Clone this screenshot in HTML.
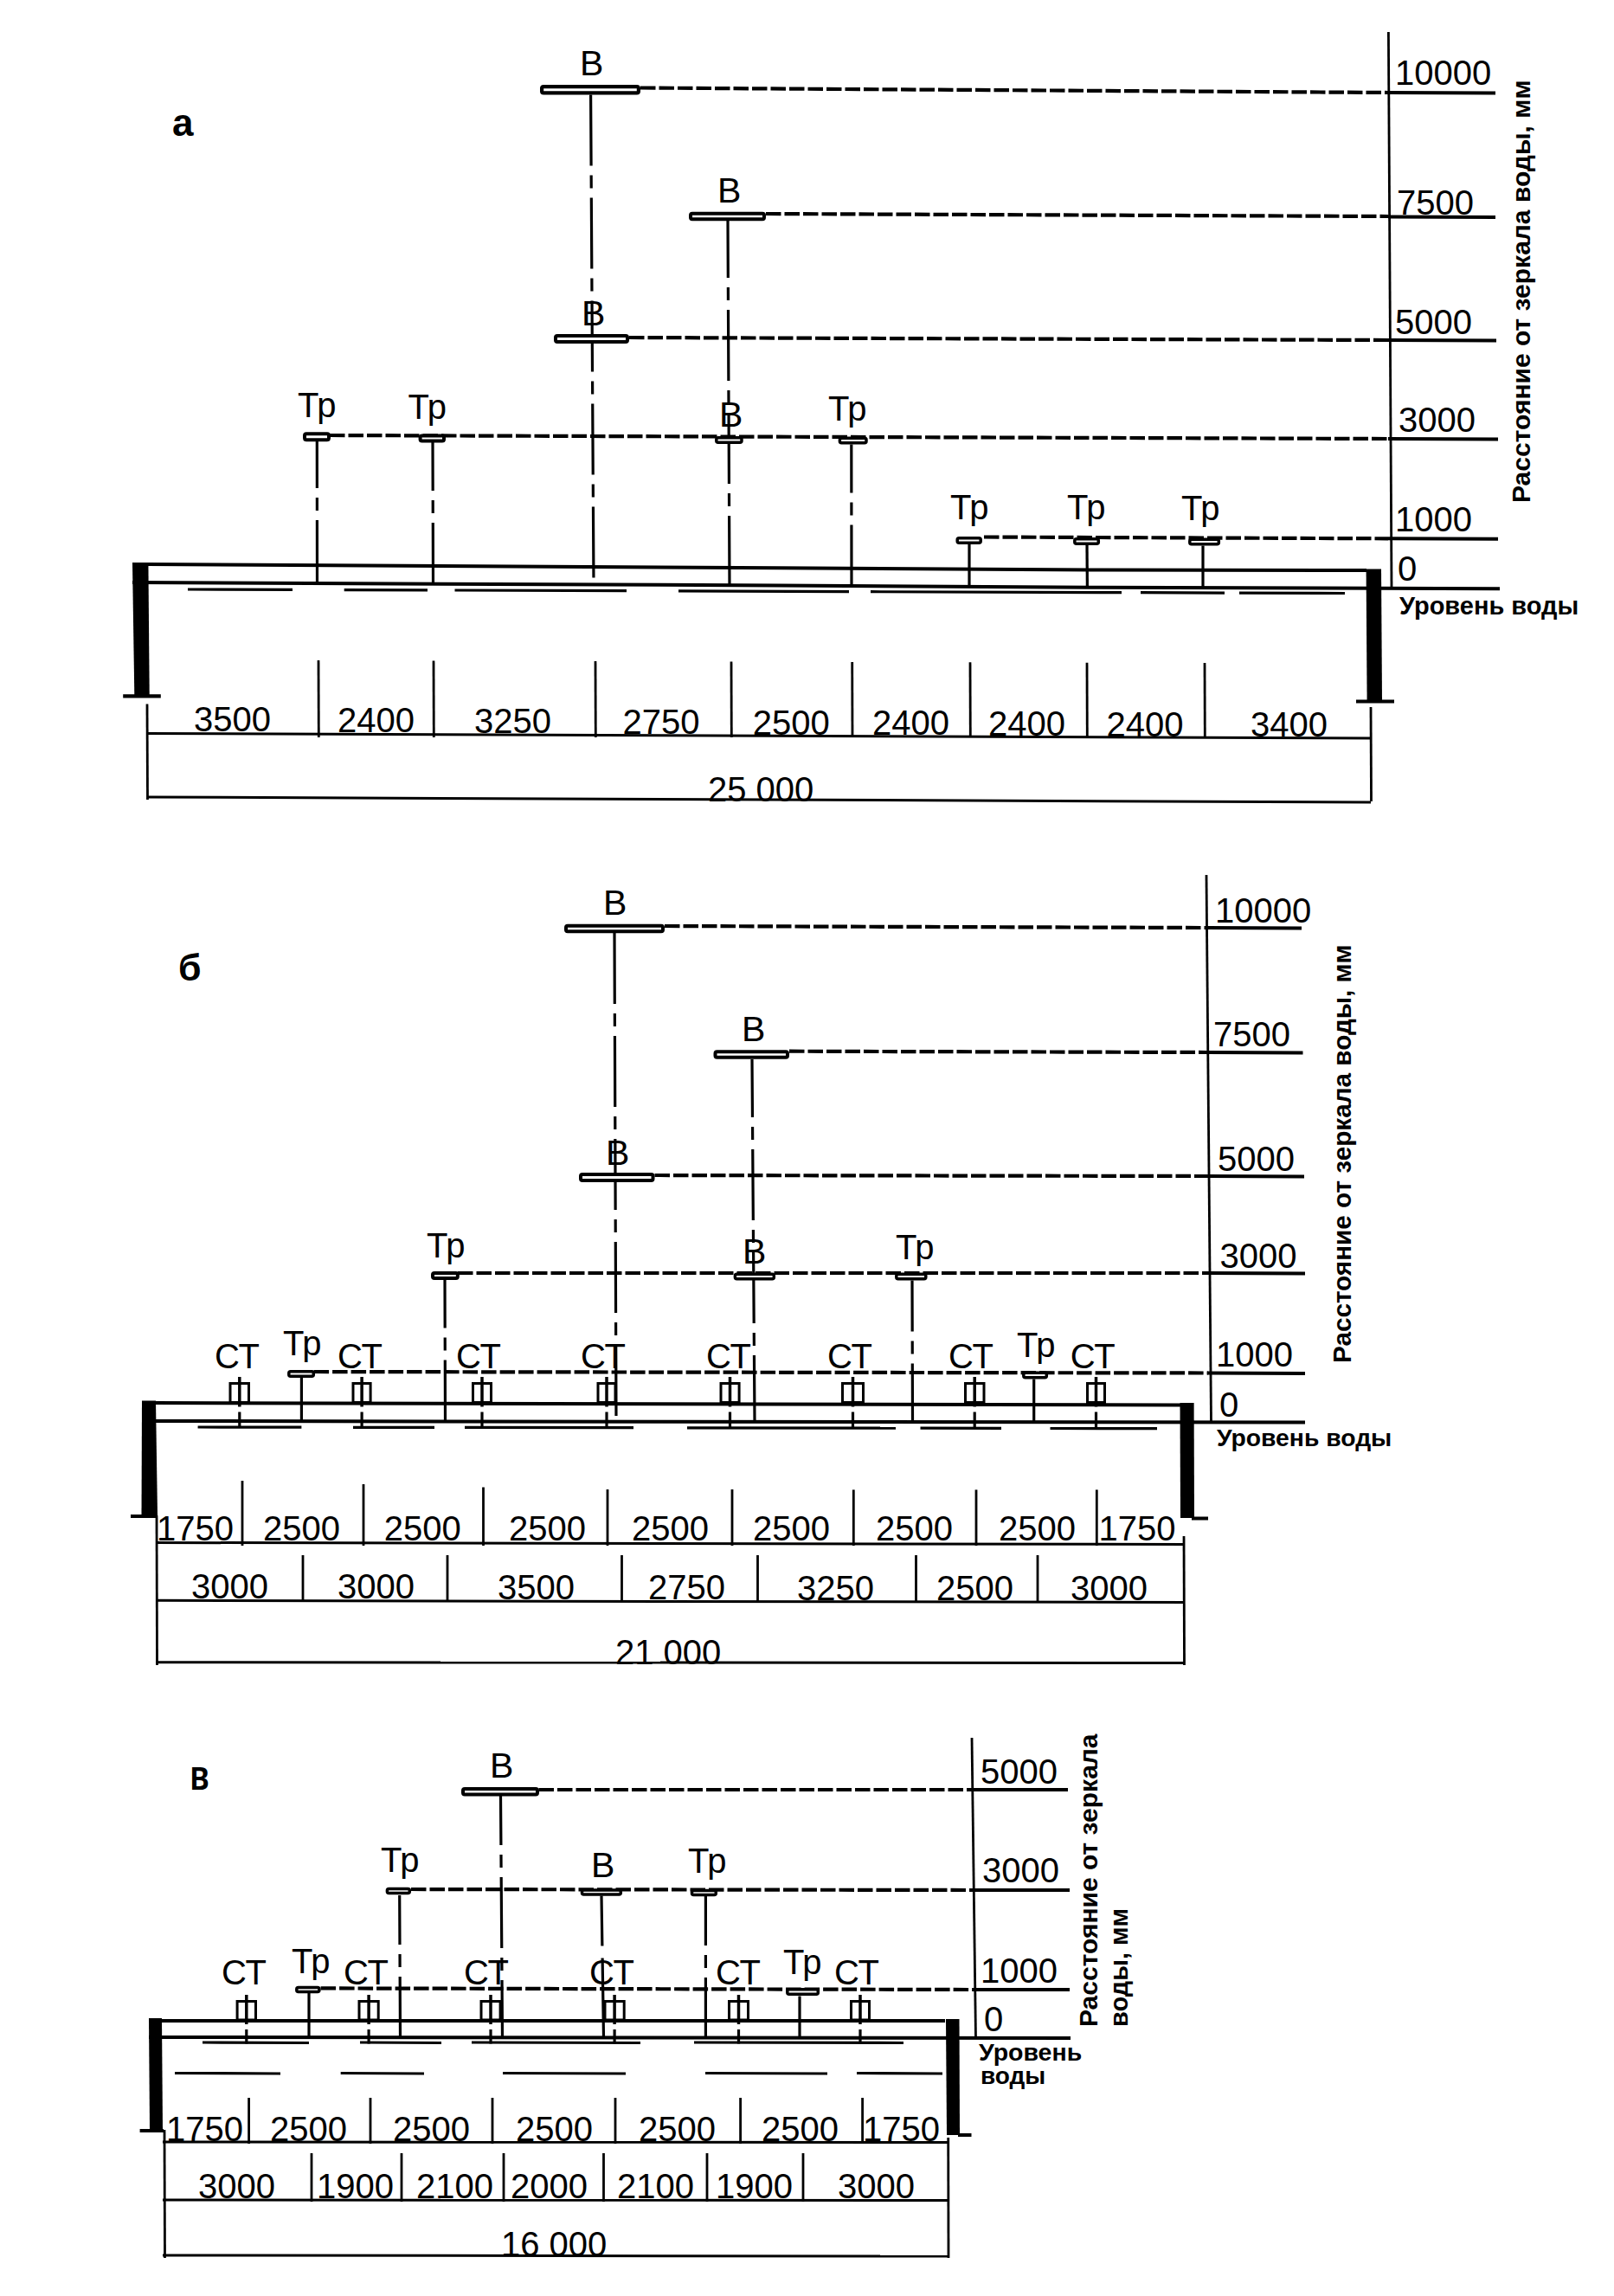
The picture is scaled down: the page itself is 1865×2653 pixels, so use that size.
<!DOCTYPE html>
<html><head><meta charset="utf-8"><style>
html,body{margin:0;padding:0;background:#fff;}
svg{display:block;}
</style></head><body>
<svg width="1865" height="2653" viewBox="0 0 1865 2653">
<rect width="1865" height="2653" fill="#fff"/>
<g stroke="#000" fill="#000" font-family="Liberation Sans, sans-serif">
<g class="t" stroke="none">
</g>
<text stroke="none" x="199.0" y="156.8" font-size="44" font-weight="bold">а</text>
<line x1="1604.4" y1="37.0" x2="1608.0" y2="681.0" stroke-width="2.8" stroke-linecap="butt"/>
<line x1="1604.0" y1="107.0" x2="1728.0" y2="107.5" stroke-width="4" stroke-linecap="butt"/>
<line x1="1604.0" y1="250.5" x2="1728.0" y2="251.0" stroke-width="4" stroke-linecap="butt"/>
<line x1="1604.0" y1="393.0" x2="1729.0" y2="393.5" stroke-width="4" stroke-linecap="butt"/>
<line x1="1604.0" y1="507.0" x2="1731.0" y2="507.5" stroke-width="4" stroke-linecap="butt"/>
<line x1="1604.0" y1="622.3" x2="1731.0" y2="622.8" stroke-width="4" stroke-linecap="butt"/>
<text stroke="none" x="1612.0" y="97.5" font-size="40">10000</text>
<text stroke="none" x="1614.0" y="247.5" font-size="40">7500</text>
<text stroke="none" x="1612.0" y="386.0" font-size="40">5000</text>
<text stroke="none" x="1616.0" y="499.0" font-size="40">3000</text>
<text stroke="none" x="1612.0" y="613.5" font-size="40">1000</text>
<text stroke="none" x="1615.0" y="671.0" font-size="40">0</text>
<text stroke="none" transform="translate(1767.5,581.0) rotate(-90)" font-size="30" font-weight="bold">Расстояние от зеркала воды, мм</text>
<text stroke="none" x="1617.0" y="710.0" font-size="29" font-weight="bold">Уровень воды</text>
<line x1="740.0" y1="101.5" x2="1604.0" y2="107.0" stroke-width="4.2" stroke-dasharray="17.5 4" stroke-linecap="butt"/>
<line x1="885.0" y1="247.0" x2="1604.0" y2="250.0" stroke-width="4.2" stroke-dasharray="17.5 4" stroke-linecap="butt"/>
<line x1="727.0" y1="390.0" x2="1604.0" y2="393.0" stroke-width="4.2" stroke-dasharray="17.5 4" stroke-linecap="butt"/>
<line x1="381.0" y1="503.0" x2="1604.0" y2="507.0" stroke-width="4.2" stroke-dasharray="17.5 4" stroke-linecap="butt"/>
<line x1="1137.0" y1="620.5" x2="1604.0" y2="622.3" stroke-width="4.2" stroke-dasharray="17.5 4" stroke-linecap="butt"/>
<polyline points="171.0,652.0 900.0,656.3 1260.0,658.6 1579.0,659.0" fill="none" stroke-width="4"/>
<polyline points="153.0,673.0 900.0,676.5 1260.0,678.7 1733.0,680.3" fill="none" stroke-width="4"/>
<line x1="217.0" y1="681.0" x2="338.0" y2="681.4" stroke-width="3.2" stroke-linecap="butt"/>
<line x1="397.7" y1="681.6" x2="494.0" y2="681.9" stroke-width="3.2" stroke-linecap="butt"/>
<line x1="525.5" y1="682.0" x2="724.0" y2="682.7" stroke-width="3.2" stroke-linecap="butt"/>
<line x1="784.0" y1="682.9" x2="981.0" y2="683.6" stroke-width="3.2" stroke-linecap="butt"/>
<line x1="1006.0" y1="683.7" x2="1296.0" y2="684.7" stroke-width="3.2" stroke-linecap="butt"/>
<line x1="1318.0" y1="684.7" x2="1415.0" y2="685.1" stroke-width="3.2" stroke-linecap="butt"/>
<line x1="1432.0" y1="685.1" x2="1554.0" y2="685.5" stroke-width="3.2" stroke-linecap="butt"/>
<polygon points="153.0,650.0 171.4,650.0 172.7,803.0 155.3,803.0" fill="#000" stroke="none"/>
<line x1="142.2" y1="804.3" x2="185.8" y2="804.3" stroke-width="4.2" stroke-linecap="butt"/>
<polygon points="1578.6,657.5 1596.0,657.5 1597.0,810.0 1579.6,810.0" fill="#000" stroke="none"/>
<line x1="1567.0" y1="810.5" x2="1611.0" y2="810.5" stroke-width="4.2" stroke-linecap="butt"/>
<rect x="626.1" y="100.1" width="111.8" height="7.3" rx="2" fill="#fff" stroke-width="4.2"/>
<line x1="682.6" y1="109.5" x2="686.0" y2="676.0" stroke-width="3.2" stroke-dasharray="82 11 15 11" stroke-linecap="butt"/>
<text stroke="none" x="670.0" y="87.4" font-size="41">В</text>
<rect x="798.0" y="246.8" width="85.0" height="6.5" rx="2" fill="#fff" stroke-width="4"/>
<line x1="841.0" y1="255.0" x2="843.0" y2="677.0" stroke-width="3.2" stroke-dasharray="82 11 15 11" stroke-dashoffset="16" stroke-linecap="butt"/>
<text stroke="none" x="829.0" y="233.5" font-size="41">В</text>
<rect x="642.0" y="388.0" width="83.0" height="7.0" rx="2" fill="#fff" stroke-width="4"/>
<text stroke="none" x="672.0" y="376.0" font-size="41">В</text>
<rect x="827.8" y="505.8" width="29.2" height="5.5" rx="2" fill="#fff" stroke-width="3.5"/>
<text stroke="none" x="831.0" y="493.0" font-size="41">В</text>
<rect x="352.0" y="501.2" width="28.0" height="7.0" rx="2" fill="#fff" stroke-width="4"/>
<line x1="366.3" y1="510.0" x2="366.5" y2="674.0" stroke-width="3.2" stroke-dasharray="82 11 15 11" stroke-dashoffset="28" stroke-linecap="butt"/>
<text stroke="none" x="344.0" y="482.0" font-size="40">Тр</text>
<rect x="485.6" y="503.5" width="27.4" height="6.0" rx="2" fill="#fff" stroke-width="4"/>
<line x1="500.0" y1="511.0" x2="500.5" y2="675.0" stroke-width="3.2" stroke-dasharray="82 11 15 11" stroke-dashoffset="26" stroke-linecap="butt"/>
<text stroke="none" x="471.5" y="484.0" font-size="40">Тр</text>
<rect x="970.4" y="506.2" width="30.6" height="5.5" rx="2" fill="#fff" stroke-width="3.5"/>
<line x1="983.8" y1="513.5" x2="984.0" y2="677.0" stroke-width="3.2" stroke-dasharray="82 11 15 11" stroke-dashoffset="26" stroke-linecap="butt"/>
<text stroke="none" x="957.0" y="485.5" font-size="40">Тр</text>
<rect x="1106.2" y="621.8" width="27.0" height="5.5" rx="2" fill="#fff" stroke-width="3.5"/>
<line x1="1120.0" y1="629.0" x2="1120.0" y2="679.0" stroke-width="3.2" stroke-linecap="butt"/>
<text stroke="none" x="1098.0" y="600.0" font-size="40">Тр</text>
<rect x="1241.8" y="622.8" width="27.5" height="5.5" rx="2" fill="#fff" stroke-width="3.5"/>
<line x1="1256.0" y1="630.0" x2="1256.4" y2="679.0" stroke-width="3.2" stroke-linecap="butt"/>
<text stroke="none" x="1233.0" y="600.0" font-size="40">Тр</text>
<rect x="1374.8" y="623.2" width="33.5" height="5.5" rx="2" fill="#fff" stroke-width="3.5"/>
<line x1="1390.0" y1="630.5" x2="1390.0" y2="679.0" stroke-width="3.2" stroke-linecap="butt"/>
<text stroke="none" x="1365.0" y="601.0" font-size="40">Тр</text>
<line x1="170.0" y1="813.4" x2="170.5" y2="924.0" stroke-width="2.8" stroke-linecap="butt"/>
<line x1="1584.0" y1="817.0" x2="1584.5" y2="926.0" stroke-width="2.8" stroke-linecap="butt"/>
<line x1="368.0" y1="763.0" x2="368.3" y2="852.0" stroke-width="2.8" stroke-linecap="butt"/>
<line x1="501.0" y1="763.4" x2="501.3" y2="852.0" stroke-width="2.8" stroke-linecap="butt"/>
<line x1="688.0" y1="764.0" x2="688.3" y2="852.0" stroke-width="2.8" stroke-linecap="butt"/>
<line x1="845.0" y1="764.4" x2="845.3" y2="852.0" stroke-width="2.8" stroke-linecap="butt"/>
<line x1="984.7" y1="764.9" x2="985.0" y2="852.0" stroke-width="2.8" stroke-linecap="butt"/>
<line x1="1121.0" y1="765.3" x2="1121.3" y2="852.0" stroke-width="2.8" stroke-linecap="butt"/>
<line x1="1256.0" y1="765.7" x2="1256.3" y2="852.0" stroke-width="2.8" stroke-linecap="butt"/>
<line x1="1392.0" y1="766.1" x2="1392.3" y2="852.0" stroke-width="2.8" stroke-linecap="butt"/>
<line x1="170.0" y1="847.5" x2="1584.0" y2="853.0" stroke-width="3" stroke-linecap="butt"/>
<line x1="170.0" y1="921.0" x2="1584.0" y2="927.0" stroke-width="3" stroke-linecap="butt"/>
<text stroke="none" x="224.0" y="845.3" font-size="40">3500</text>
<text stroke="none" x="390.0" y="846.1" font-size="40">2400</text>
<text stroke="none" x="548.0" y="846.9" font-size="40">3250</text>
<text stroke="none" x="719.6" y="847.8" font-size="40">2750</text>
<text stroke="none" x="869.7" y="848.5" font-size="40">2500</text>
<text stroke="none" x="1008.0" y="849.2" font-size="40">2400</text>
<text stroke="none" x="1142.0" y="849.9" font-size="40">2400</text>
<text stroke="none" x="1278.5" y="850.6" font-size="40">2400</text>
<text stroke="none" x="1445.0" y="851.4" font-size="40">3400</text>
<text stroke="none" x="818.0" y="925.5" font-size="40">25 000</text>
<text stroke="none" x="206.0" y="1132.5" font-size="43" font-weight="bold">б</text>
<line x1="1394.0" y1="1011.0" x2="1399.5" y2="1644.0" stroke-width="2.8" stroke-linecap="butt"/>
<line x1="1395.0" y1="1072.0" x2="1504.0" y2="1072.5" stroke-width="4" stroke-linecap="butt"/>
<line x1="1395.0" y1="1216.0" x2="1505.5" y2="1216.5" stroke-width="4" stroke-linecap="butt"/>
<line x1="1395.0" y1="1359.0" x2="1507.0" y2="1359.5" stroke-width="4" stroke-linecap="butt"/>
<line x1="1395.0" y1="1471.0" x2="1508.0" y2="1471.5" stroke-width="4" stroke-linecap="butt"/>
<line x1="1395.0" y1="1586.5" x2="1508.0" y2="1587.0" stroke-width="4" stroke-linecap="butt"/>
<text stroke="none" x="1404.0" y="1065.5" font-size="40">10000</text>
<text stroke="none" x="1402.0" y="1209.0" font-size="40">7500</text>
<text stroke="none" x="1407.0" y="1352.6" font-size="40">5000</text>
<text stroke="none" x="1409.5" y="1465.0" font-size="40">3000</text>
<text stroke="none" x="1405.0" y="1578.8" font-size="40">1000</text>
<text stroke="none" x="1409.0" y="1636.5" font-size="40">0</text>
<text stroke="none" x="1406.0" y="1671.0" font-size="28.3" font-weight="bold">Уровень воды</text>
<text stroke="none" transform="translate(1561.0,1575.0) rotate(-90)" font-size="29.7" font-weight="bold">Расстояние от зеркала воды, мм</text>
<line x1="768.0" y1="1070.0" x2="1395.0" y2="1072.0" stroke-width="4.2" stroke-dasharray="17.5 4" stroke-linecap="butt"/>
<line x1="912.0" y1="1214.7" x2="1395.0" y2="1216.0" stroke-width="4.2" stroke-dasharray="17.5 4" stroke-linecap="butt"/>
<line x1="756.5" y1="1358.0" x2="1395.0" y2="1359.0" stroke-width="4.2" stroke-dasharray="17.5 4" stroke-linecap="butt"/>
<line x1="529.0" y1="1471.0" x2="1396.0" y2="1471.0" stroke-width="4.2" stroke-dasharray="17.5 4" stroke-linecap="butt"/>
<line x1="362.6" y1="1585.0" x2="1396.0" y2="1586.5" stroke-width="4.2" stroke-dasharray="17.5 4" stroke-linecap="butt"/>
<line x1="180.0" y1="1621.0" x2="1364.0" y2="1623.5" stroke-width="4" stroke-linecap="butt"/>
<line x1="164.0" y1="1642.0" x2="1508.0" y2="1643.5" stroke-width="4" stroke-linecap="butt"/>
<line x1="228.6" y1="1649.0" x2="348.4" y2="1649.2" stroke-width="3.2" stroke-linecap="butt"/>
<line x1="408.0" y1="1649.3" x2="502.0" y2="1649.4" stroke-width="3.2" stroke-linecap="butt"/>
<line x1="537.0" y1="1649.4" x2="732.0" y2="1649.7" stroke-width="3.2" stroke-linecap="butt"/>
<line x1="794.0" y1="1649.8" x2="1035.0" y2="1650.2" stroke-width="3.2" stroke-linecap="butt"/>
<line x1="1063.5" y1="1650.2" x2="1157.0" y2="1650.4" stroke-width="3.2" stroke-linecap="butt"/>
<line x1="1213.5" y1="1650.5" x2="1337.0" y2="1650.6" stroke-width="3.2" stroke-linecap="butt"/>
<polygon points="164.0,1618.6 180.0,1618.6 182.0,1751.0 163.5,1751.0" fill="#000" stroke="none"/>
<line x1="151.0" y1="1752.0" x2="182.0" y2="1752.0" stroke-width="4" stroke-linecap="butt"/>
<polygon points="1363.5,1621.0 1379.6,1621.0 1380.0,1754.0 1364.0,1754.0" fill="#000" stroke="none"/>
<line x1="1377.0" y1="1754.5" x2="1396.0" y2="1754.5" stroke-width="4" stroke-linecap="butt"/>
<rect x="654.0" y="1069.8" width="112.0" height="6.5" rx="2" fill="#fff" stroke-width="4"/>
<line x1="710.0" y1="1078.0" x2="712.0" y2="1641.0" stroke-width="3.2" stroke-dasharray="82 11 15 11" stroke-linecap="butt"/>
<text stroke="none" x="697.0" y="1057.0" font-size="41">В</text>
<rect x="826.5" y="1215.2" width="83.5" height="6.5" rx="2" fill="#fff" stroke-width="4"/>
<line x1="869.0" y1="1224.0" x2="872.0" y2="1642.0" stroke-width="3.2" stroke-dasharray="82 11 15 11" stroke-dashoffset="15" stroke-linecap="butt"/>
<text stroke="none" x="857.0" y="1202.5" font-size="41">В</text>
<rect x="671.0" y="1357.0" width="83.5" height="7.0" rx="2" fill="#fff" stroke-width="4"/>
<text stroke="none" x="700.0" y="1346.0" font-size="41">В</text>
<rect x="849.4" y="1472.2" width="44.9" height="5.5" rx="2" fill="#fff" stroke-width="3.5"/>
<text stroke="none" x="858.0" y="1460.0" font-size="41">В</text>
<rect x="500.0" y="1471.0" width="28.8" height="6.0" rx="2" fill="#fff" stroke-width="4"/>
<line x1="514.0" y1="1477.5" x2="514.5" y2="1641.0" stroke-width="3.2" stroke-dasharray="82 11 15 11" stroke-dashoffset="25" stroke-linecap="butt"/>
<text stroke="none" x="493.0" y="1453.0" font-size="40">Тр</text>
<rect x="1035.8" y="1472.2" width="34.0" height="5.5" rx="2" fill="#fff" stroke-width="3.5"/>
<line x1="1054.0" y1="1479.5" x2="1054.5" y2="1642.0" stroke-width="3.2" stroke-dasharray="82 11 15 11" stroke-dashoffset="23" stroke-linecap="butt"/>
<text stroke="none" x="1035.0" y="1455.0" font-size="40">Тр</text>
<rect x="333.8" y="1584.8" width="28.5" height="5.5" rx="2" fill="#fff" stroke-width="3.5"/>
<line x1="348.4" y1="1592.0" x2="348.4" y2="1641.0" stroke-width="3.2" stroke-linecap="butt"/>
<text stroke="none" x="327.0" y="1565.5" font-size="40">Тр</text>
<rect x="1182.8" y="1586.2" width="26.5" height="5.5" rx="2" fill="#fff" stroke-width="3.5"/>
<line x1="1194.7" y1="1593.5" x2="1194.7" y2="1642.0" stroke-width="3.2" stroke-linecap="butt"/>
<text stroke="none" x="1175.0" y="1568.0" font-size="40">Тр</text>
<rect x="266.0" y="1598.5" width="21.5" height="22.0" fill="#fff" stroke-width="3"/>
<line x1="276.8" y1="1591.0" x2="276.8" y2="1625.5" stroke-width="3.5" stroke-linecap="butt"/>
<line x1="276.8" y1="1631.5" x2="276.8" y2="1649.5" stroke-width="3.2" stroke-linecap="butt"/>
<text stroke="none" x="248.0" y="1581.3" font-size="40">СТ</text>
<rect x="408.0" y="1598.5" width="20.1" height="22.0" fill="#fff" stroke-width="3"/>
<line x1="418.1" y1="1591.0" x2="418.1" y2="1625.5" stroke-width="3.5" stroke-linecap="butt"/>
<line x1="418.1" y1="1631.5" x2="418.1" y2="1649.5" stroke-width="3.2" stroke-linecap="butt"/>
<text stroke="none" x="390.0" y="1581.3" font-size="40">СТ</text>
<rect x="546.5" y="1598.5" width="21.0" height="22.0" fill="#fff" stroke-width="3"/>
<line x1="557.0" y1="1591.0" x2="557.0" y2="1625.5" stroke-width="3.5" stroke-linecap="butt"/>
<line x1="557.0" y1="1631.5" x2="557.0" y2="1649.5" stroke-width="3.2" stroke-linecap="butt"/>
<text stroke="none" x="527.0" y="1581.3" font-size="40">СТ</text>
<rect x="691.0" y="1598.5" width="20.0" height="22.0" fill="#fff" stroke-width="3"/>
<line x1="701.0" y1="1591.0" x2="701.0" y2="1625.5" stroke-width="3.5" stroke-linecap="butt"/>
<line x1="701.0" y1="1631.5" x2="701.0" y2="1649.5" stroke-width="3.2" stroke-linecap="butt"/>
<text stroke="none" x="671.0" y="1581.3" font-size="40">СТ</text>
<rect x="833.0" y="1598.5" width="21.1" height="22.0" fill="#fff" stroke-width="3"/>
<line x1="843.5" y1="1591.0" x2="843.5" y2="1625.5" stroke-width="3.5" stroke-linecap="butt"/>
<line x1="843.5" y1="1631.5" x2="843.5" y2="1649.5" stroke-width="3.2" stroke-linecap="butt"/>
<text stroke="none" x="816.0" y="1581.3" font-size="40">СТ</text>
<rect x="973.5" y="1598.5" width="24.0" height="22.0" fill="#fff" stroke-width="3"/>
<line x1="985.5" y1="1591.0" x2="985.5" y2="1625.5" stroke-width="3.5" stroke-linecap="butt"/>
<line x1="985.5" y1="1631.5" x2="985.5" y2="1649.5" stroke-width="3.2" stroke-linecap="butt"/>
<text stroke="none" x="956.0" y="1581.3" font-size="40">СТ</text>
<rect x="1115.5" y="1598.5" width="21.5" height="22.0" fill="#fff" stroke-width="3"/>
<line x1="1126.2" y1="1591.0" x2="1126.2" y2="1625.5" stroke-width="3.5" stroke-linecap="butt"/>
<line x1="1126.2" y1="1631.5" x2="1126.2" y2="1649.5" stroke-width="3.2" stroke-linecap="butt"/>
<text stroke="none" x="1096.0" y="1581.3" font-size="40">СТ</text>
<rect x="1256.5" y="1598.5" width="20.0" height="22.0" fill="#fff" stroke-width="3"/>
<line x1="1266.5" y1="1591.0" x2="1266.5" y2="1625.5" stroke-width="3.5" stroke-linecap="butt"/>
<line x1="1266.5" y1="1631.5" x2="1266.5" y2="1649.5" stroke-width="3.2" stroke-linecap="butt"/>
<text stroke="none" x="1236.7" y="1581.3" font-size="40">СТ</text>
<line x1="181.0" y1="1751.0" x2="181.5" y2="1924.0" stroke-width="2.8" stroke-linecap="butt"/>
<line x1="1368.0" y1="1775.0" x2="1368.5" y2="1924.0" stroke-width="2.8" stroke-linecap="butt"/>
<line x1="280.0" y1="1711.0" x2="280.0" y2="1786.0" stroke-width="2.8" stroke-linecap="butt"/>
<line x1="420.0" y1="1715.0" x2="420.0" y2="1786.0" stroke-width="2.8" stroke-linecap="butt"/>
<line x1="558.5" y1="1718.5" x2="558.5" y2="1786.0" stroke-width="2.8" stroke-linecap="butt"/>
<line x1="702.0" y1="1721.0" x2="702.0" y2="1786.0" stroke-width="2.8" stroke-linecap="butt"/>
<line x1="846.0" y1="1721.0" x2="846.0" y2="1786.0" stroke-width="2.8" stroke-linecap="butt"/>
<line x1="986.3" y1="1721.4" x2="986.3" y2="1786.0" stroke-width="2.8" stroke-linecap="butt"/>
<line x1="1128.0" y1="1721.4" x2="1128.0" y2="1786.0" stroke-width="2.8" stroke-linecap="butt"/>
<line x1="1267.3" y1="1721.4" x2="1267.3" y2="1786.0" stroke-width="2.8" stroke-linecap="butt"/>
<line x1="180.0" y1="1782.5" x2="1369.0" y2="1784.5" stroke-width="3" stroke-linecap="butt"/>
<line x1="350.0" y1="1797.0" x2="350.0" y2="1851.0" stroke-width="2.8" stroke-linecap="butt"/>
<line x1="517.0" y1="1797.0" x2="517.0" y2="1851.0" stroke-width="2.8" stroke-linecap="butt"/>
<line x1="718.5" y1="1797.0" x2="718.5" y2="1851.0" stroke-width="2.8" stroke-linecap="butt"/>
<line x1="875.5" y1="1797.0" x2="875.5" y2="1851.0" stroke-width="2.8" stroke-linecap="butt"/>
<line x1="1058.5" y1="1797.0" x2="1058.5" y2="1851.0" stroke-width="2.8" stroke-linecap="butt"/>
<line x1="1199.0" y1="1797.0" x2="1199.0" y2="1851.0" stroke-width="2.8" stroke-linecap="butt"/>
<line x1="180.0" y1="1849.3" x2="1369.0" y2="1851.5" stroke-width="3" stroke-linecap="butt"/>
<line x1="180.0" y1="1920.7" x2="1369.0" y2="1921.5" stroke-width="3" stroke-linecap="butt"/>
<text stroke="none" x="181.0" y="1780.0" font-size="40">1750</text>
<text stroke="none" x="304.0" y="1780.0" font-size="40">2500</text>
<text stroke="none" x="443.7" y="1780.0" font-size="40">2500</text>
<text stroke="none" x="588.0" y="1780.0" font-size="40">2500</text>
<text stroke="none" x="730.0" y="1780.0" font-size="40">2500</text>
<text stroke="none" x="870.0" y="1780.0" font-size="40">2500</text>
<text stroke="none" x="1012.0" y="1780.0" font-size="40">2500</text>
<text stroke="none" x="1154.0" y="1780.0" font-size="40">2500</text>
<text stroke="none" x="1269.6" y="1780.0" font-size="40">1750</text>
<text stroke="none" x="221.0" y="1847.1" font-size="40">3000</text>
<text stroke="none" x="390.0" y="1847.4" font-size="40">3000</text>
<text stroke="none" x="575.0" y="1847.8" font-size="40">3500</text>
<text stroke="none" x="749.0" y="1848.1" font-size="40">2750</text>
<text stroke="none" x="921.0" y="1848.5" font-size="40">3250</text>
<text stroke="none" x="1082.0" y="1848.8" font-size="40">2500</text>
<text stroke="none" x="1237.0" y="1849.1" font-size="40">3000</text>
<text stroke="none" x="711.0" y="1922.5" font-size="40">21 000</text>
<text stroke="none" transform="translate(219.5,2068) scale(0.75,1)" font-size="48" font-weight="bold">в</text>
<line x1="1123.0" y1="2008.0" x2="1127.5" y2="2356.0" stroke-width="2.8" stroke-linecap="butt"/>
<line x1="1124.0" y1="2068.0" x2="1234.0" y2="2068.0" stroke-width="4" stroke-linecap="butt"/>
<line x1="1124.0" y1="2184.0" x2="1236.0" y2="2184.0" stroke-width="4" stroke-linecap="butt"/>
<line x1="1124.0" y1="2299.0" x2="1236.0" y2="2299.0" stroke-width="4" stroke-linecap="butt"/>
<text stroke="none" x="1133.0" y="2061.0" font-size="40">5000</text>
<text stroke="none" x="1135.0" y="2175.0" font-size="40">3000</text>
<text stroke="none" x="1133.0" y="2290.6" font-size="40">1000</text>
<text stroke="none" x="1137.0" y="2347.0" font-size="40">0</text>
<text stroke="none" x="1131.0" y="2380.5" font-size="28.5" font-weight="bold">Уровень</text>
<text stroke="none" x="1133.0" y="2407.5" font-size="28" font-weight="bold">воды</text>
<text stroke="none" transform="translate(1268.0,2342.0) rotate(-90)" font-size="30" font-weight="bold">Расстояние от зеркала</text>
<text stroke="none" transform="translate(1302.5,2342.0) rotate(-90)" font-size="29" font-weight="bold">воды, мм</text>
<line x1="622.5" y1="2068.0" x2="1124.0" y2="2068.0" stroke-width="4.2" stroke-dasharray="17.5 4" stroke-linecap="butt"/>
<line x1="475.0" y1="2183.0" x2="1124.0" y2="2184.0" stroke-width="4.2" stroke-dasharray="17.5 4" stroke-linecap="butt"/>
<line x1="370.6" y1="2297.4" x2="1124.0" y2="2299.0" stroke-width="4.2" stroke-dasharray="17.5 4" stroke-linecap="butt"/>
<line x1="187.0" y1="2335.0" x2="1092.0" y2="2335.0" stroke-width="4" stroke-linecap="butt"/>
<line x1="172.0" y1="2354.0" x2="1237.0" y2="2355.0" stroke-width="4" stroke-linecap="butt"/>
<line x1="234.0" y1="2360.0" x2="357.0" y2="2360.5" stroke-width="3.2" stroke-linecap="butt"/>
<line x1="416.0" y1="2360.0" x2="510.0" y2="2360.5" stroke-width="3.2" stroke-linecap="butt"/>
<line x1="545.0" y1="2360.0" x2="740.0" y2="2360.5" stroke-width="3.2" stroke-linecap="butt"/>
<line x1="802.0" y1="2360.0" x2="1044.0" y2="2360.5" stroke-width="3.2" stroke-linecap="butt"/>
<line x1="202.0" y1="2395.5" x2="324.0" y2="2396.0" stroke-width="3.2" stroke-linecap="butt"/>
<line x1="393.7" y1="2395.5" x2="490.0" y2="2396.0" stroke-width="3.2" stroke-linecap="butt"/>
<line x1="581.0" y1="2395.5" x2="723.0" y2="2396.0" stroke-width="3.2" stroke-linecap="butt"/>
<line x1="815.0" y1="2395.5" x2="956.0" y2="2396.0" stroke-width="3.2" stroke-linecap="butt"/>
<line x1="990.0" y1="2395.5" x2="1089.0" y2="2396.0" stroke-width="3.2" stroke-linecap="butt"/>
<polygon points="172.0,2332.0 187.0,2332.0 188.0,2461.6 173.0,2461.6" fill="#000" stroke="none"/>
<line x1="161.6" y1="2462.0" x2="189.0" y2="2462.0" stroke-width="4" stroke-linecap="butt"/>
<polygon points="1093.0,2333.0 1108.5,2333.0 1109.0,2467.0 1094.0,2467.0" fill="#000" stroke="none"/>
<line x1="1107.0" y1="2467.0" x2="1122.5" y2="2467.0" stroke-width="4" stroke-linecap="butt"/>
<rect x="535.0" y="2066.9" width="86.0" height="6.5" rx="2" fill="#fff" stroke-width="4"/>
<line x1="578.5" y1="2075.0" x2="580.5" y2="2354.0" stroke-width="3.2" stroke-dasharray="82 11 15 11" stroke-dashoffset="25" stroke-linecap="butt"/>
<text stroke="none" x="566.0" y="2054.0" font-size="41">В</text>
<rect x="447.4" y="2182.5" width="25.9" height="5.0" rx="2" fill="#fff" stroke-width="3.5"/>
<line x1="461.7" y1="2190.0" x2="462.5" y2="2354.0" stroke-width="3.2" stroke-dasharray="82 11 15 11" stroke-dashoffset="25" stroke-linecap="butt"/>
<text stroke="none" x="440.0" y="2163.0" font-size="40">Тр</text>
<rect x="672.5" y="2184.0" width="44.8" height="5.0" rx="2" fill="#fff" stroke-width="3.5"/>
<line x1="695.0" y1="2190.5" x2="697.5" y2="2354.0" stroke-width="3.2" stroke-dasharray="58 14 300" stroke-linecap="butt"/>
<text stroke="none" x="683.0" y="2168.5" font-size="41">В</text>
<rect x="799.5" y="2184.5" width="27.8" height="5.0" rx="2" fill="#fff" stroke-width="3.5"/>
<line x1="815.4" y1="2191.0" x2="815.4" y2="2354.0" stroke-width="3.2" stroke-dasharray="82 11 15 11" stroke-dashoffset="25" stroke-linecap="butt"/>
<text stroke="none" x="795.0" y="2163.5" font-size="40">Тр</text>
<rect x="342.8" y="2296.5" width="26.1" height="5.0" rx="2" fill="#fff" stroke-width="3.5"/>
<line x1="357.0" y1="2303.0" x2="357.0" y2="2354.0" stroke-width="3.2" stroke-linecap="butt"/>
<text stroke="none" x="337.0" y="2280.0" font-size="40">Тр</text>
<rect x="909.8" y="2298.8" width="35.5" height="5.5" rx="2" fill="#fff" stroke-width="3.5"/>
<line x1="924.0" y1="2306.5" x2="924.0" y2="2354.0" stroke-width="3.2" stroke-linecap="butt"/>
<text stroke="none" x="905.0" y="2281.0" font-size="40">Тр</text>
<rect x="274.1" y="2312.5" width="21.4" height="21.5" fill="#fff" stroke-width="3"/>
<line x1="284.8" y1="2305.0" x2="284.8" y2="2339.0" stroke-width="3.5" stroke-linecap="butt"/>
<line x1="284.8" y1="2345.0" x2="284.8" y2="2361.5" stroke-width="3.2" stroke-linecap="butt"/>
<text stroke="none" x="256.0" y="2293.0" font-size="40">СТ</text>
<rect x="415.0" y="2312.5" width="22.2" height="21.5" fill="#fff" stroke-width="3"/>
<line x1="426.1" y1="2305.0" x2="426.1" y2="2339.0" stroke-width="3.5" stroke-linecap="butt"/>
<line x1="426.1" y1="2345.0" x2="426.1" y2="2361.5" stroke-width="3.2" stroke-linecap="butt"/>
<text stroke="none" x="397.0" y="2293.0" font-size="40">СТ</text>
<rect x="556.0" y="2312.5" width="22.1" height="21.5" fill="#fff" stroke-width="3"/>
<line x1="567.0" y1="2305.0" x2="567.0" y2="2339.0" stroke-width="3.5" stroke-linecap="butt"/>
<line x1="567.0" y1="2345.0" x2="567.0" y2="2361.5" stroke-width="3.2" stroke-linecap="butt"/>
<text stroke="none" x="536.0" y="2293.0" font-size="40">СТ</text>
<rect x="699.0" y="2312.5" width="22.2" height="21.5" fill="#fff" stroke-width="3"/>
<line x1="710.1" y1="2305.0" x2="710.1" y2="2339.0" stroke-width="3.5" stroke-linecap="butt"/>
<line x1="710.1" y1="2345.0" x2="710.1" y2="2361.5" stroke-width="3.2" stroke-linecap="butt"/>
<text stroke="none" x="681.0" y="2293.0" font-size="40">СТ</text>
<rect x="842.5" y="2312.5" width="22.0" height="21.5" fill="#fff" stroke-width="3"/>
<line x1="853.5" y1="2305.0" x2="853.5" y2="2339.0" stroke-width="3.5" stroke-linecap="butt"/>
<line x1="853.5" y1="2345.0" x2="853.5" y2="2361.5" stroke-width="3.2" stroke-linecap="butt"/>
<text stroke="none" x="827.0" y="2293.0" font-size="40">СТ</text>
<rect x="983.5" y="2312.5" width="21.0" height="21.5" fill="#fff" stroke-width="3"/>
<line x1="994.0" y1="2305.0" x2="994.0" y2="2339.0" stroke-width="3.5" stroke-linecap="butt"/>
<line x1="994.0" y1="2345.0" x2="994.0" y2="2361.5" stroke-width="3.2" stroke-linecap="butt"/>
<text stroke="none" x="964.0" y="2293.0" font-size="40">СТ</text>
<line x1="190.0" y1="2461.0" x2="190.5" y2="2609.0" stroke-width="2.8" stroke-linecap="butt"/>
<line x1="1095.7" y1="2470.0" x2="1096.0" y2="2609.0" stroke-width="2.8" stroke-linecap="butt"/>
<line x1="287.6" y1="2424.0" x2="287.6" y2="2477.0" stroke-width="2.8" stroke-linecap="butt"/>
<line x1="428.0" y1="2424.0" x2="428.0" y2="2477.0" stroke-width="2.8" stroke-linecap="butt"/>
<line x1="569.0" y1="2424.0" x2="569.0" y2="2477.0" stroke-width="2.8" stroke-linecap="butt"/>
<line x1="711.0" y1="2424.0" x2="711.0" y2="2477.0" stroke-width="2.8" stroke-linecap="butt"/>
<line x1="855.6" y1="2424.0" x2="855.6" y2="2477.0" stroke-width="2.8" stroke-linecap="butt"/>
<line x1="996.6" y1="2424.0" x2="996.6" y2="2477.0" stroke-width="2.8" stroke-linecap="butt"/>
<line x1="188.0" y1="2475.0" x2="1096.0" y2="2475.5" stroke-width="3" stroke-linecap="butt"/>
<line x1="360.0" y1="2488.0" x2="360.0" y2="2544.0" stroke-width="2.8" stroke-linecap="butt"/>
<line x1="464.0" y1="2488.0" x2="464.0" y2="2544.0" stroke-width="2.8" stroke-linecap="butt"/>
<line x1="582.0" y1="2488.0" x2="582.0" y2="2544.0" stroke-width="2.8" stroke-linecap="butt"/>
<line x1="697.5" y1="2488.0" x2="697.5" y2="2544.0" stroke-width="2.8" stroke-linecap="butt"/>
<line x1="817.0" y1="2488.0" x2="817.0" y2="2544.0" stroke-width="2.8" stroke-linecap="butt"/>
<line x1="928.0" y1="2488.0" x2="928.0" y2="2544.0" stroke-width="2.8" stroke-linecap="butt"/>
<line x1="188.0" y1="2542.0" x2="1096.0" y2="2542.5" stroke-width="3" stroke-linecap="butt"/>
<line x1="188.0" y1="2606.0" x2="1096.0" y2="2607.0" stroke-width="3" stroke-linecap="butt"/>
<text stroke="none" x="192.0" y="2473.5" font-size="40">1750</text>
<text stroke="none" x="312.0" y="2473.5" font-size="40">2500</text>
<text stroke="none" x="454.0" y="2473.5" font-size="40">2500</text>
<text stroke="none" x="596.0" y="2473.5" font-size="40">2500</text>
<text stroke="none" x="738.0" y="2473.5" font-size="40">2500</text>
<text stroke="none" x="880.0" y="2473.5" font-size="40">2500</text>
<text stroke="none" x="997.0" y="2473.5" font-size="40">1750</text>
<text stroke="none" x="229.0" y="2539.5" font-size="40">3000</text>
<text stroke="none" x="366.0" y="2539.5" font-size="40">1900</text>
<text stroke="none" x="481.0" y="2539.5" font-size="40">2100</text>
<text stroke="none" x="590.0" y="2539.5" font-size="40">2000</text>
<text stroke="none" x="713.0" y="2539.5" font-size="40">2100</text>
<text stroke="none" x="827.0" y="2539.5" font-size="40">1900</text>
<text stroke="none" x="968.0" y="2539.5" font-size="40">3000</text>
<text stroke="none" x="579.0" y="2607.0" font-size="40">16 000</text>
</g>
</svg>
</body></html>
